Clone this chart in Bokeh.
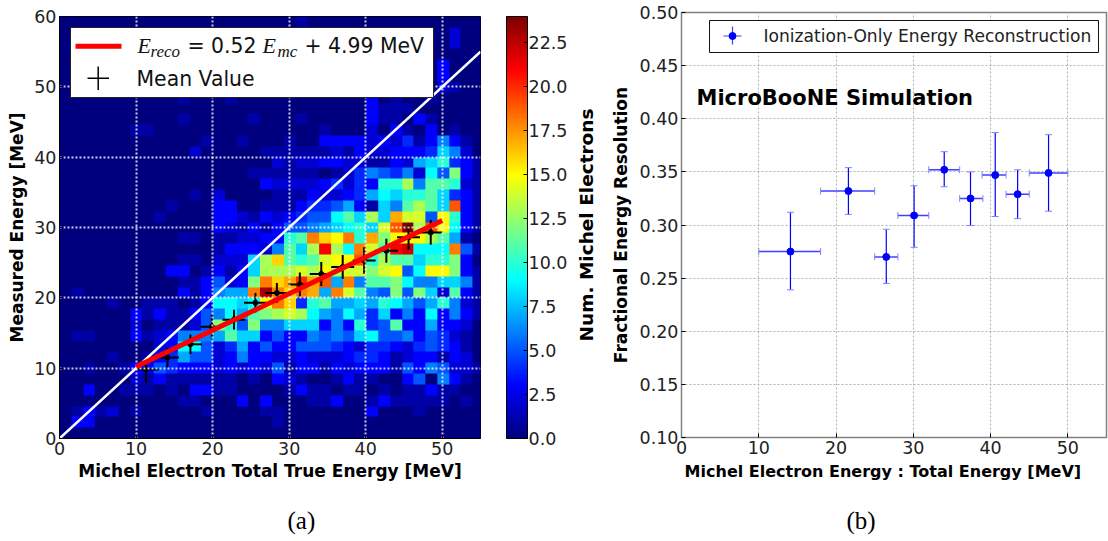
import numpy as np
from bokeh.plotting import figure
from bokeh.layouts import row
from bokeh.embed import file_html
from bokeh.resources import INLINE
from bokeh.core.properties import value
from bokeh.models import (ColorBar, LinearColorMapper, FixedTicker, Label, LinearAxis, Range1d,
                          Whisker, ColumnDataSource, TeeHead, NumeralTickFormatter)

# ---------- panel (a) data : histogram rows, bottom row first, 36 columns ----------
row_00 = [0]*36
row_01 = [0,3,3,0,0,0,0,0,0,0,0,0,0,0,0,0, 0,0,1,0,0,0,0,0,0,0,0,0,0,0,0,0,0,0,0,0]
row_02 = [0,1,3,1,2,0,1,0,0,0,0,0,1,0,0,0, 0,1,1,0,0,0,0,0,0,0,3,0,0,0,1,0,0,0,0,0]
row_03 = [0,0,0,0,0,0,0,0,0,0,1,1,0,0,0,3, 0,3,0,0,0,1,1,3,0,0,1,3,1,1,1,1,1,0,1,0]
row_04 = [0,0,3,0,0,1,1,1,0,1,0,3,3,1,1,0, 0,0,0,1,3,1,1,0,1,1,0,1,0,1,1,3,1,1,0,0]
row_05 = [0,0,0,0,0,0,2,1,3,1,1,1,1,1,1,0, 1,0,3,2,1,0,0,1,3,1,1,0,0,3,5,0,6,3,1,0]
row_06 = [0,0,1,0,0,1,3,3,5,4,3,3,3,2,3,2, 3,2,5,1,3,3,1,3,2,3,3,3,1,5,3,6,5,2,2,1]
row_07 = [0,0,0,0,1,0,0,1,3,4,7,5,5,2,3,6, 3,3,2,2,3,2,2,2,3,4,4,3,1,2,3,3,1,3,2,0]
row_08 = [0,0,0,0,0,0,0,0,2,3,9,9,5,2,4,7, 3,5,3,3,5,5,5,4,3,2,4,4,3,2,4,5,4,3,1,0]
row_09 = [0,1,1,0,0,0,3,1,2,3,6,6,6,7,11,8, 8,3,5,3,3,6,5,6,5,8,9,5,5,6,3,5,4,2,1,0]
row_10 = [0,0,0,0,0,0,2,0,1,1,1,2,5,12,10,5, 12,6,6,8,8,8,3,6,3,10,4,5,11,3,3,7,3,3,2,0]
row_11 = [0,0,0,0,0,0,3,1,3,1,1,3,5,6,9,7, 11,12,13,14,13,9,7,6,9,7,4,8,3,6,3,9,3,6,3,1]
row_12 = [0,0,0,0,1,0,0,1,1,1,0,1,3,9,9,8, 9,15,18,16,4,10,11,7,7,8,7,10,9,7,5,7,10,6,2,1]
row_13 = [0,1,0,0,0,0,0,0,0,0,3,1,3,6,7,7, 18,23,18,16,18,17,7,18,14,11,6,5,12,5,12,8,2,11,3,1]
row_14 = [0,0,0,0,0,0,0,0,0,0,1,1,3,5,2,3, 12,18,16,17,20,17,19,7,18,6,11,11,12,9,6,6,8,8,6,1]
row_15 = [0,0,0,0,0,0,0,0,0,3,3,0,1,3,1,3, 8,13,13,13,14,13,15,13,14,14,12,14,15,5,9,15,15,12,3,1]
row_16 = [0,0,0,0,0,0,0,0,0,0,1,1,0,2,2,2, 8,13,16,11,10,11,14,15,15,19,10,13,11,11,8,10,10,12,3,0]
row_17 = [0,0,0,0,0,0,0,0,0,0,0,0,0,1,3,3, 3,2,6,11,8,13,21,13,9,18,14,11,21,22,9,9,9,18,5,1]
row_18 = [0,0,0,0,0,0,0,0,0,0,1,1,0,1,1,2, 2,3,3,10,11,18,16,15,18,10,17,12,15,15,15,13,11,7,1,0]
row_19 = [0,0,0,0,0,0,0,0,0,0,0,0,0,3,2,1, 3,1,3,5,5,6,7,8,9,10,8,14,19,24,13,19,15,9,3,1]
row_20 = [0,0,0,0,0,0,0,0,1,0,0,0,0,3,3,2, 1,3,2,3,4,5,5,9,11,8,13,8,17,14,14,5,15,10,3,1]
row_21 = [0,0,0,0,0,0,0,0,0,1,0,0,0,3,3,0, 0,1,1,1,3,4,4,5,7,3,1,8,6,11,13,11,8,19,3,1]
row_22 = [0,0,0,0,0,0,0,0,0,0,0,1,0,2,0,0, 0,0,1,1,1,3,2,2,3,4,7,9,8,10,10,11,8,4,3,1]
row_23 = [0,0,0,0,0,0,0,0,0,0,0,0,0,0,0,0, 0,3,2,2,2,2,3,4,2,4,3,10,10,13,6,11,11,10,2,1]
row_24 = [0,0,0,0,0,0,0,0,0,0,0,0,0,0,0,0, 1,1,1,1,1,1,0,1,2,4,6,5,4,6,2,9,5,12,3,1]
row_25 = [0,0,0,0,0,0,0,0,0,0,0,0,0,0,0,0, 0,0,2,1,2,2,3,3,2,2,1,1,3,2,7,8,10,4,3,1]
row_26 = [0,0,0,0,0,0,0,0,0,0,0,2,0,0,0,0, 0,1,1,1,1,1,1,2,1,3,2,2,3,3,3,4,8,6,2,0]
row_27 = [0,0,0,0,0,0,0,0,0,0,0,0,1,0,0,1, 0,0,0,1,0,0,3,3,3,3,2,3,2,4,1,3,6,3,1,0]
row_28 = [0,0,0,0,0,0,1,1,0,0,0,0,0,0,0,0, 0,0,0,0,0,0,1,0,0,0,2,0,3,1,0,3,0,1,0,0]
row_29 = [0,0,0,0,0,0,0,0,0,0,1,0,0,0,0,0, 1,0,0,0,1,0,0,0,0,0,3,1,1,0,3,1,0,0,0,0]
row_30 = [0,0,0,0,0,0,0,0,0,0,0,0,0,0,0,0, 0,0,0,0,0,0,0,0,0,0,3,1,1,1,0,0,0,0,0,0]
row_31 = [0,0,0,0,0,0,0,0,0,0,1,0,0,0,1,0, 0,0,0,0,0,0,0,0,0,0,3,0,1,0,0,1,0,0,0,0]
row_32 = [0,0,0,0,0,0,0,0,0,0,0,0,0,0,0,0, 0,0,0,0,0,0,0,0,0,0,0,0,0,0,0,0,2,1,0,0]
row_33 = [0,0,0,0,0,0,0,0,0,0,0,0,0,0,0,0, 0,0,0,0,0,0,0,0,0,0,0,0,0,0,0,0,3,0,0,0]
row_34 = [0,0,0,0,0,0,0,0,0,0,0,0,0,0,0,0, 0,0,0,0,0,0,0,0,0,0,0,0,0,0,0,0,3,0,0,0]
row_35 = [0]*36
row_36 = [0,0,0,0,0,0,0,0,0,0,0,0,0,0,0,0, 0,0,0,0,0,0,0,0,0,0,0,0,0,0,0,0,0,2,0,0]
row_37 = [0,0,0,0,0,0,0,0,0,0,0,0,0,0,0,0, 0,0,0,0,0,0,0,0,0,0,0,0,0,0,0,0,0,2,0,0]
row_38 = [0,0,0,0,0,0,0,0,0,0,0,0,0,0,0,0, 0,0,0,0,1,0,0,0,0,0,0,0,0,0,0,0,0,0,0,0]

mean_x  = [11.3,14.1,17.1,19.9,22.8,25.6,28.4,31.4,34.2,37.0,39.8,42.7,45.6,48.5]
mean_y  = [9.8,11.5,13.4,15.9,16.9,19.3,20.7,21.9,23.4,24.4,25.3,26.7,28.6,29.3]
mean_xe = [1.65,1.5,1.5,1.5,1.5,1.5,1.5,1.5,1.5,1.5,1.5,1.5,1.5,1.5]
mean_ye = [1.9,1.4,1.4,1.7,1.4,1.4,1.4,1.7,1.7,1.7,1.9,1.7,1.75,1.75]
fit_x = [10, 50]
fit_y = [10.19, 30.99]
diag_x = [0, 55]
diag_y = [0, 55]

# ---------- panel (b) data ----------
res_x   = [14.1,21.6,26.5,30.1,34.0,37.4,40.6,43.5,47.5]
res_y   = [.275,.332,.270,.309,.352,.325,.347,.329,.349]
res_xlo = [10,18,25,28,32,36,38.9,42,45]
res_xhi = [18,25,28,32,36,39,42,45,50]
res_ylo = [.239,.310,.245,.279,.336,.2995,.308,.306,.313]
res_yhi = [.312,.354,.296,.337,.369,.350,.387,.352,.385]

a_xticks = [0,10,20,30,40,50]
a_yticks = [0,10,20,30,40,50,60]
cb_ticks = [0,2.5,5,7.5,10,12.5,15,17.5,20,22.5]
b_xticks = [0,10,20,30,40,50]
b_yticks = [.10,.15,.20,.25,.30,.35,.40,.45,.50]

FONT = "DejaVu Sans"
SERIF = "Liberation Serif"
TICK = "17.5px"
LAB = "17px"

# layout constants, page pixels
A_L, A_R, A_T, A_B = 59, 480, 16, 438
B_L, B_R, B_T, B_B = 679, 1104, 12, 437
W_A = 572
H = 541
SHIFT = A_T - B_T
def ax(px): return (px - A_L) / (A_R - A_L) * 55
def ay(py): return (A_B - py) / (A_B - A_T) * 60
def bx(px): return (px - B_L) / (B_R - B_L) * 55
def by(py): return 0.10 + (B_B - py) / (B_B - B_T) * 0.40

# jet colormap
t = np.linspace(0, 1, 256)
def ch(v): return np.clip(1.5 - np.abs(4*t - v), 0, 1)
jet = ["#%02x%02x%02x" % (int(r*255), int(g*255), int(b*255)) for r, g, b in zip(ch(3), ch(2), ch(1))]
mapper = LinearColorMapper(palette=jet, low=0, high=24)

hist = np.array([row_00,row_01,row_02,row_03,row_04,row_05,row_06,row_07,row_08,row_09,
                 row_10,row_11,row_12,row_13,row_14,row_15,row_16,row_17,row_18,row_19,
                 row_20,row_21,row_22,row_23,row_24,row_25,row_26,row_27,row_28,row_29,
                 row_30,row_31,row_32,row_33,row_34,row_35,row_36,row_37,row_38], dtype=float)
BIN = 60 / 39

pa = figure(output_backend="svg", toolbar_location=None, x_range=(0,55), y_range=(0,60),
            frame_width=A_R-A_L, frame_height=A_B-A_T, width=W_A, height=H-SHIFT,
            min_border_left=A_L, min_border_top=B_T, min_border_bottom=H-A_B,
            min_border_right=W_A-A_R, outline_line_color="black", outline_line_width=1,
            background_fill_color=None, border_fill_color=None, margin=(SHIFT,0,0,0),
            title="(a)", title_location="below")
pa.image(image=[hist], x=0, y=0, dw=hist.shape[1]*BIN, dh=hist.shape[0]*BIN, color_mapper=mapper, level="image")

# error bars under the dotted grid, as in the reference
me = dict(level="image", line_color="black")
x_a, y_a, xe_a, ye_a = map(np.array, (mean_x, mean_y, mean_xe, mean_ye))
pa.segment(x_a-xe_a, y_a, x_a+xe_a, y_a, line_width=2, **me)
pa.segment(x_a, y_a-ye_a, x_a, y_a+ye_a, line_width=2, **me)
pa.scatter(x_a, y_a, marker="circle", size=5, color="black", level="image")

pa.line(diag_x, diag_y, line_color="white", line_width=2.5)
pa.line(fit_x, fit_y, line_color="#ff0000", line_width=5)

for g in (pa.xgrid, pa.ygrid):
    g.grid_line_color = "white"; g.grid_line_dash = "2 2"; g.grid_line_width = 2; g.grid_line_alpha = 0.8
pa.xaxis.ticker = FixedTicker(ticks=a_xticks)
pa.yaxis.ticker = FixedTicker(ticks=a_yticks)
pa.xaxis.axis_label = "Michel Electron Total True Energy [MeV]"
pa.yaxis.axis_label = "Measured Energy [MeV]"

# legend of panel (a), drawn above the marks
pa.quad(left=[ax(70)], right=[ax(433)], top=[ay(27)], bottom=[ay(97)], fill_color="white", line_color="#222222", line_width=1)
pa.line([ax(75), ax(121)], [ay(45.7), ay(45.7)], line_color="#ff0000", line_width=5)
pa.line([ax(87), ax(108.5)], [ay(77.7), ay(77.7)], line_color="black", line_width=1.5)
pa.line([ax(97.7), ax(97.7)], [ay(66), ay(89.5)], line_color="black", line_width=1.5)
def tx_a(px, py, txt, size, font=SERIF, style="italic"):
    pa.text([ax(px)], [ay(py)], text=[txt], text_font=value(font), text_font_style=style,
            text_font_size=value(size), text_baseline="middle", text_color="#111111")
tx_a(137, 45, "E", "22px")
tx_a(150, 51, "reco", "17px")
tx_a(187, 45, "= 0.52", "20.4px", FONT, "normal")
tx_a(262, 45, "E", "22px")
tx_a(277, 51, "mc", "17px")
tx_a(304, 45, "+ 4.99 MeV", "20.4px", FONT, "normal")
tx_a(136, 78, "Mean Value", "20.4px", FONT, "normal")

cb = ColorBar(color_mapper=mapper, ticker=FixedTicker(ticks=cb_ticks), formatter=NumeralTickFormatter(format="0.0"),
              width=21, height=A_B-A_T, margin=0, padding=0,
              major_label_text_font=FONT, major_label_text_font_size=TICK, major_label_text_color="#222222",
              major_tick_in=4, major_tick_line_color="black", minor_tick_line_color=None,
              bar_line_color="black", label_standoff=1, location=(26,0))
pa.add_layout(cb, "right")

pb = figure(output_backend="svg", toolbar_location=None, x_range=(0,55), y_range=(0.10,0.50),
            frame_width=B_R-B_L, frame_height=B_B-B_T, width=1108-W_A, height=H,
            min_border_left=B_L-W_A, min_border_top=B_T, min_border_bottom=H-B_B,
            min_border_right=1108-B_R, outline_line_color="#808080", outline_line_width=1.5,
            background_fill_color=None, border_fill_color=None,
            title="(b)", title_location="below")
for p, off in ((pa, 228), (pb, 165)):
    p.title.align = "left"; p.title.offset = off; p.title.standoff = 46
    p.title.text_font = SERIF; p.title.text_font_size = "25px"; p.title.text_font_style = "normal"
    p.title.text_color = "black"; p.title.vertical_align = "top"
for g in (pb.xgrid, pb.ygrid):
    g.grid_line_color = "#b0b0b0"; g.grid_line_dash = "2 2"; g.grid_line_width = 1
pb.xaxis.ticker = FixedTicker(ticks=b_xticks)
pb.yaxis.ticker = FixedTicker(ticks=b_yticks)
pb.yaxis.formatter = NumeralTickFormatter(format="0.00")
pb.xaxis.axis_label = "Michel Electron Energy : Total Energy [MeV]" + "\u00a0"*4
pb.yaxis.axis_label = "Fractional Energy Resolution"

src = ColumnDataSource(dict(x=res_x, y=res_y, xlo=res_xlo, xhi=res_xhi, ylo=res_ylo, yhi=res_yhi))
pb.add_layout(Whisker(source=src, base="y", lower="xlo", upper="xhi", dimension="width",
                      line_color="#4040ff", line_width=1.5,
                      lower_head=TeeHead(size=7, line_color="#8080ff"), upper_head=TeeHead(size=7, line_color="#8080ff")))
pb.add_layout(Whisker(source=src, base="x", lower="ylo", upper="yhi", dimension="height",
                      line_color="#0000ff", line_width=1.2,
                      lower_head=TeeHead(size=7, line_color="#8080ff"), upper_head=TeeHead(size=7, line_color="#8080ff")))
pb.scatter("x", "y", source=src, marker="circle", size=7, color="#0000ff")
# legend of panel (b)
pb.quad(left=[bx(707)], right=[bx(1096)], top=[by(20)], bottom=[by(52)], fill_color="white", line_color="#111111", line_width=1)
pb.line([bx(721), bx(739)], [by(35.5), by(35.5)], line_color="#4040ff", line_width=1.2)
pb.line([bx(730), bx(730)], [by(26), by(44)], line_color="#4040ff", line_width=1.2)
pb.scatter([bx(730)], [by(35.5)], marker="circle", size=7, color="#0000ff")
pb.text([bx(761)], [by(35.5)], text=["Ionization-Only Energy Reconstruction"], text_font=value(FONT),
        text_font_size=value("17.1px"), text_baseline="middle", text_color="#222222")
pb.add_layout(Label(x=bx(694), y=by(97), text="MicroBooNE Simulation", text_font=FONT, text_font_style="bold",
                    text_font_size="21px", text_baseline="middle", text_color="black"))

for p in (pa, pb):
    for a in (p.xaxis[0], p.yaxis[0]):
        a.major_tick_in = 4; a.major_tick_out = 0; a.minor_tick_line_color = None
        a.major_label_text_font = FONT; a.major_label_text_font_size = TICK
        a.major_label_text_color = "#222222"; a.major_label_standoff = 3
        a.axis_label_text_font = FONT; a.axis_label_text_font_style = "bold"
        a.axis_label_text_font_size = LAB; a.axis_label_text_color = "black"
        a.axis_label_standoff = 4
        a.axis_line_color = p.outline_line_color
pa.xaxis[0].axis_label_standoff = 3
pb.xaxis[0].axis_label_text_font_size = "16px"
pb.xaxis[0].axis_label_standoff = 5
pb.yaxis[0].axis_label_standoff = 6

# colour bar label: the outer left axis of the second canvas sits just right of the colour bar
pb.extra_y_ranges["colorbar"] = Range1d(0, 24)
cb_axis = LinearAxis(y_range_name="colorbar", ticker=FixedTicker(ticks=[]), axis_line_color=None,
                     major_tick_line_color=None, minor_tick_line_color=None, major_label_text_color=None,
                     axis_label="Num. Michel Electrons", axis_label_text_font=FONT, axis_label_text_font_style="bold",
                     axis_label_text_font_size="18.5px", axis_label_text_color="black", axis_label_standoff=11)
pb.add_layout(cb_axis, "left")

open("out.html", "w").write(file_html(row(pa, pb, spacing=0), INLINE))
